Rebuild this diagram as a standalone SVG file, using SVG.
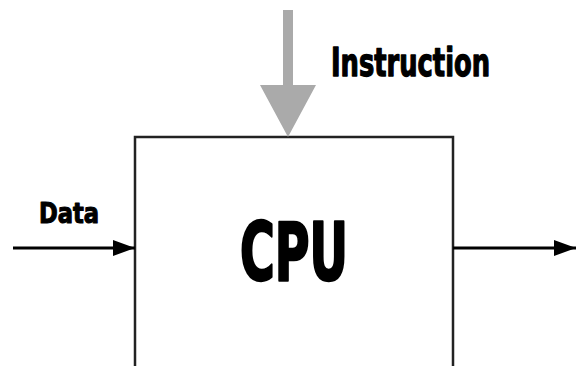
<svg xmlns="http://www.w3.org/2000/svg" width="577" height="366" viewBox="0 0 577 366">
<style>
.lbl{font-family:"DejaVu Sans Condensed","DejaVu Sans",sans-serif;font-stretch:condensed;font-weight:bold;fill:#000;stroke:#000;stroke-linejoin:round}
.wire{stroke:#000;stroke-width:3;fill:none}
</style>
<defs>
<marker id="ah" markerUnits="userSpaceOnUse" markerWidth="24" markerHeight="16" refX="22" refY="8" orient="auto">
<path d="M0,0 L22,8 L0,16 Z" fill="#000"/>
</marker>
</defs>
<rect width="577" height="366" fill="#fff"/>
<g id="cpu">
<path d="M135,366 V137 H453 V366" fill="#fff" stroke="#222" stroke-width="2.5"/>
<text class="lbl" x="294" y="280" font-size="80" stroke-width="2.5" text-anchor="middle" textLength="108" lengthAdjust="spacingAndGlyphs">CPU</text>
</g>
<g id="instruction">
<path d="M283,10 H293 V85 H316 L288,137 L260,85 H283 Z" fill="#aaa"/>
<text class="lbl" x="331" y="75.5" font-size="39" stroke-width="1.3" textLength="159" lengthAdjust="spacingAndGlyphs">Instruction</text>
</g>
<g id="data">
<text class="lbl" x="39" y="222.5" font-size="28.5" stroke-width="1.1" textLength="60" lengthAdjust="spacingAndGlyphs">Data</text>
</g>
<g id="connectors">
<line class="wire" x1="13" y1="248" x2="135" y2="248" marker-end="url(#ah)"/>
<line class="wire" x1="453" y1="248" x2="576" y2="248" marker-end="url(#ah)"/>
</g>
</svg>
